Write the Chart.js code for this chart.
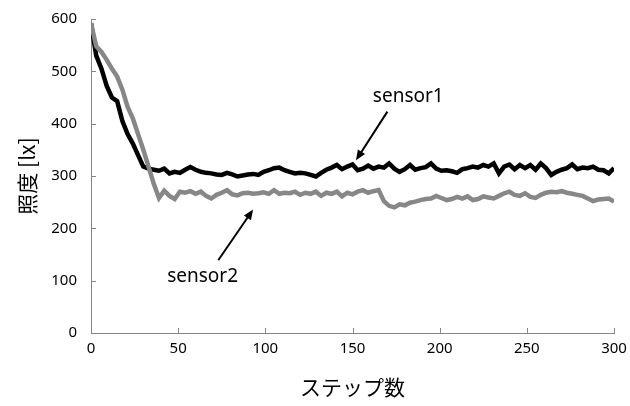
<!DOCTYPE html>
<html>
<head>
<meta charset="utf-8">
<script src="https://cdn.jsdelivr.net/npm/chart.js@4.4.1/dist/chart.umd.min.js"></script>
<style>
  html, body { margin: 0; padding: 0; background: #fff; }
  #wrap { width: 630px; height: 406px; }
</style>
</head>
<body>
<div id="wrap"><canvas id="chart" width="630" height="406"></canvas></div>
<script>
// step numbers (every 3 steps)
const steps = [
  0, 3, 6, 9, 12, 15, 18, 21, 24, 27, 30, 33, 36, 39, 42, 45, 48, 51, 54, 57,
  60, 63, 66, 69, 72, 75, 78, 81, 84, 87, 90, 93, 96, 99, 102, 105, 108, 111, 114, 117,
  120, 123, 126, 129, 132, 135, 138, 141, 144, 147, 150, 153, 156, 159, 162, 165, 168, 171, 174, 177,
  180, 183, 186, 189, 192, 195, 198, 201, 204, 207, 210, 213, 216, 219, 222, 225, 228, 231, 234, 237,
  240, 243, 246, 249, 252, 255, 258, 261, 264, 267, 270, 273, 276, 279, 282, 285, 288, 291, 294, 297,
  300
];

const sensor1 = [
  592, 530, 505, 472, 450, 443, 405, 380, 362, 340, 318, 314, 312, 310, 314, 305, 308, 306, 312, 317,
  312, 308, 306, 305, 303, 302, 306, 303, 299, 301, 303, 304, 302, 308, 311, 315, 316, 311, 308, 305,
  306, 305, 302, 299, 306, 312, 316, 321, 313, 318, 322, 311, 314, 320, 314, 318, 316, 324, 314, 308,
  313, 321, 312, 315, 317, 324, 314, 310, 311, 309, 306, 313, 315, 318, 316, 321, 318, 324, 305, 318,
  322, 313, 321, 315, 321, 312, 324, 315, 302, 308, 312, 315, 322, 313, 316, 315, 318, 312, 311, 305,
  315
];

const sensor2 = [
  592, 548, 537, 522, 505, 490, 465, 432, 410, 380, 350, 318, 285, 258, 272, 262, 256, 270, 268, 271,
  266, 270, 262, 257, 264, 268, 273, 265, 263, 267, 268, 266, 267, 269, 266, 273, 266, 268, 267, 270,
  264, 268, 266, 270, 262, 268, 266, 270, 261, 268, 265, 270, 273, 268, 271, 273, 252, 243, 240, 246,
  244, 249, 251, 254, 256, 257, 262, 258, 254, 256, 260, 257, 261, 254, 256, 261, 259, 257, 262, 267,
  270, 264, 262, 267, 260, 258, 264, 268, 270, 269, 271, 268, 266, 264, 262, 257, 252, 255, 256, 257,
  251
];

const xTicks = [0, 50, 100, 150, 200, 250, 300];
const yTicks = [0, 100, 200, 300, 400, 500, 600];

// label text, label position and arrow tail -> head, in data units
const notes = [
  { text: "sensor1", at: [182, 451], from: [170, 423], to: [152, 330] },
  { text: "sensor2", at: [64, 108], from: [73, 139], to: [93, 236] },
];

const axisColor = "#868686";
const tickFont = { family: "'Noto Sans', sans-serif", size: 15 };
const titleFont = { family: "'Noto Sans CJK JP', sans-serif", size: 21 };

// inside tick marks + arrows and labels
const extras = {
  id: "extras",
  afterDraw(chart) {
    const ctx = chart.ctx;
    const xs = chart.scales.x;
    const ys = chart.scales.y;
    const area = chart.chartArea;

    ctx.save();
    ctx.strokeStyle = axisColor;
    ctx.lineWidth = 1;
    ctx.beginPath();
    xTicks.forEach((t) => {
      const px = Math.round(xs.getPixelForValue(t)) + 0.5;
      ctx.moveTo(px, area.bottom);
      ctx.lineTo(px, area.bottom - 5);
    });
    yTicks.forEach((t) => {
      const py = Math.round(ys.getPixelForValue(t)) + 0.5;
      ctx.moveTo(area.left, py);
      ctx.lineTo(area.left + 5, py);
    });
    ctx.stroke();

    ctx.strokeStyle = "#000";
    ctx.fillStyle = "#000";
    ctx.lineWidth = 2;
    notes.forEach((n) => {
      const x1 = xs.getPixelForValue(n.from[0]);
      const y1 = ys.getPixelForValue(n.from[1]);
      const x2 = xs.getPixelForValue(n.to[0]);
      const y2 = ys.getPixelForValue(n.to[1]);
      const a = Math.atan2(y2 - y1, x2 - x1);
      const len = 11;
      ctx.beginPath();
      ctx.moveTo(x1, y1);
      ctx.lineTo(x2 - Math.cos(a) * 4, y2 - Math.sin(a) * 4);
      ctx.stroke();
      ctx.beginPath();
      ctx.moveTo(x2, y2);
      ctx.lineTo(x2 - len * Math.cos(a - 0.4), y2 - len * Math.sin(a - 0.4));
      ctx.lineTo(x2 - len * Math.cos(a + 0.4), y2 - len * Math.sin(a + 0.4));
      ctx.closePath();
      ctx.fill();

      ctx.font = "19px 'Noto Sans', sans-serif";
      ctx.textAlign = "center";
      ctx.textBaseline = "middle";
      ctx.fillText(n.text, xs.getPixelForValue(n.at[0]), ys.getPixelForValue(n.at[1]));
    });
    ctx.restore();
  },
};

new Chart(document.getElementById("chart").getContext("2d"), {
  type: "line",
  data: {
    datasets: [
      {
        label: "sensor1",
        data: steps.map((s, i) => ({ x: s, y: sensor1[i] })),
        borderColor: "#000000",
        borderWidth: 4.5,
        pointRadius: 0,
        tension: 0,
        order: 1,
      },
      {
        label: "sensor2",
        data: steps.map((s, i) => ({ x: s, y: sensor2[i] })),
        borderColor: "#878787",
        borderWidth: 4.5,
        pointRadius: 0,
        tension: 0,
        order: 0,
      },
    ],
  },
  options: {
    responsive: false,
    animation: false,
    layout: { padding: { left: 0, right: 16, top: 19, bottom: 0 } },
    plugins: { legend: { display: false }, tooltip: { enabled: false } },
    scales: {
      x: {
        type: "linear",
        min: 0,
        max: 300,
        afterBuildTicks: (scale) => {
          scale.ticks = xTicks.map((v) => ({ value: v }));
        },
        afterFit: (scale) => {
          scale.height = 73;
          scale.paddingLeft = 0;
          scale.paddingRight = 0;
        },
        grid: { display: false, drawTicks: false },
        border: { display: true, color: axisColor, width: 1 },
        ticks: { color: "#000", font: tickFont, padding: 7, maxRotation: 0 },
        title: {
          display: true,
          text: "ステップ数",
          color: "#000",
          font: titleFont,
          padding: { top: 0, bottom: 6 },
        },
      },
      y: {
        min: 0,
        max: 600,
        afterBuildTicks: (scale) => {
          scale.ticks = yTicks.map((v) => ({ value: v }));
        },
        afterFit: (scale) => {
          scale.width = 91;
          scale.paddingTop = 0;
          scale.paddingBottom = 0;
        },
        grid: { display: false, drawTicks: false },
        border: { display: true, color: axisColor, width: 1 },
        ticks: { color: "#000", font: tickFont, padding: 14 },
        title: {
          display: true,
          text: "照度 [lx]",
          color: "#000",
          font: titleFont,
          padding: { top: 14, bottom: 0 },
        },
      },
    },
  },
  plugins: [extras],
});
</script>
</body>
</html>
